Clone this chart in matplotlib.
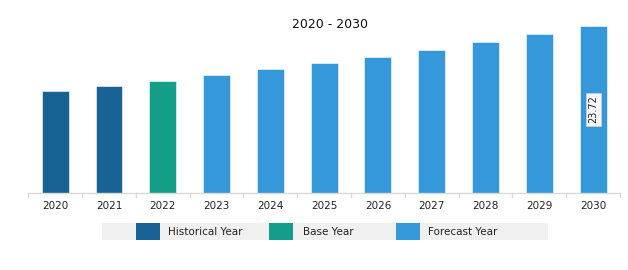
import matplotlib
matplotlib.use('Agg')

import matplotlib.pyplot as plt
import matplotlib.patches as patches

# data
years = ['2020', '2021', '2022', '2023', '2024', '2025',
         '2026', '2027', '2028', '2029', '2030']
values = [14.47, 15.19, 15.96, 16.76, 17.58, 18.48,
          19.35, 20.33, 21.39, 22.54, 23.72]
kinds = ['hist', 'hist', 'base', 'fc', 'fc', 'fc',
         'fc', 'fc', 'fc', 'fc', 'fc']
legend_labels = ['Historical Year', 'Base Year', 'Forecast Year']
title = '2020 - 2030'
shown_label = '23.72'

colors = {'hist': '#196394', 'base': '#139E8A', 'fc': '#3498DB'}

W, H = 628, 270
fig = plt.figure(figsize=(W / 100, H / 100), dpi=100)

# axes in pixel coordinates of the reference
ax_left, ax_right, ax_bottom, ax_top = 28.3, 620, 193, 20
ax = fig.add_axes([ax_left / W, 1 - ax_bottom / H,
                   (ax_right - ax_left) / W, (ax_bottom - ax_top) / H])

x = list(range(len(years)))
bar_colors = [colors[k] for k in kinds]
bars = ax.bar(x, values, width=0.5, color=bar_colors,
              edgecolor='#ffffff', linewidth=0.4)

ax.set_xlim(-0.5, len(years) - 0.5)
ax.set_ylim(0, 24.57)

for s in ['top', 'right', 'left']:
    ax.spines[s].set_visible(False)
ax.spines['bottom'].set_color('#d9d9d9')
ax.spines['bottom'].set_linewidth(1.0)
ax.set_yticks([])

ax.set_xticks(x)
ax.set_xticklabels(years, fontsize=7.5, color='#222222')
ax.tick_params(axis='x', length=0, pad=6)
# small category boundary ticks
for b in range(len(years) + 1):
    ax.plot([b - 0.5, b - 0.5], [0, -0.5], color='#d9d9d9', lw=1.0,
            clip_on=False)

# value label on last bar
last = bars[-1]
ax.text(last.get_x() + last.get_width() / 2, values[-1] / 2, shown_label,
        rotation=90, ha='center', va='center', fontsize=7, color='#222222',
        bbox=dict(boxstyle='square,pad=0.25', facecolor='#f7f7f7',
                  edgecolor='#cccccc', linewidth=0.6))

fig.text(330 / W, 1 - 25 / H, title, ha='center', va='center',
         fontsize=9, color='#111111')

# legend band
lax = fig.add_axes([0, 0, 1, 1])
lax.set_xlim(0, W)
lax.set_ylim(H, 0)
lax.axis('off')
lax.add_patch(patches.Rectangle((102, 223), 446, 17, facecolor='#f0f0f0',
                                edgecolor='none'))
for (px, tx), label, k in zip([(136, 168), (269, 303), (396, 428)],
                              legend_labels, ['hist', 'base', 'fc']):
    lax.add_patch(patches.Rectangle((px, 223), 24, 17, facecolor=colors[k],
                                    edgecolor='none'))
    lax.text(tx, 232, label, ha='left', va='center', fontsize=7.5,
             color='#222222')

fig.savefig('out.png', dpi=100)
